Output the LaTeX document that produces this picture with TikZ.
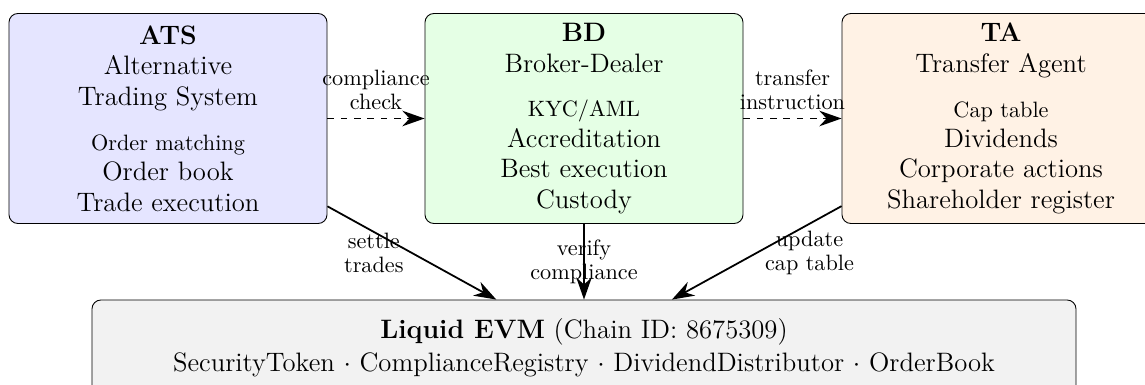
\documentclass[tikz,border=0pt]{standalone}
\usetikzlibrary{arrows.meta}
\begin{document}
\begin{tikzpicture}[x=0.45pt,y=-0.45pt,
  box/.style={draw=black, rounded corners=4pt, minimum width=143.1pt,
    minimum height=94.5pt, align=center, inner sep=0pt,
    font={\fontsize{12}{13.7}\selectfont}},
  chainbox/.style={draw=black, rounded corners=4pt, fill=gray!10,
    minimum width=442.8pt, minimum height=43.2pt, align=center,
    inner sep=0pt, font={\fontsize{12}{14.8}\selectfont}},
  lbl/.style={font={\fontsize{10}{11}\selectfont}, align=center},
  flow/.style={thick, -{Stealth[length=10pt,width=7pt]}}]
\clip (0,0) rectangle (1145,385);

\node[box, fill=blue!10] (ats) at (168,118.5)
  {\textbf{ATS}\\ Alternative\\ Trading System\\[6.5pt]
   {\normalsize Order matching}\\ Order book\\ Trade execution};
\node[box, fill=green!10] (bd) at (584,118.5)
  {\textbf{BD}\\ Broker-Dealer\\[6.5pt]
   {\normalsize KYC/AML}\\ Accreditation\\ Best execution\\ Custody};
\node[box, fill=orange!10] (ta) at (1001,118.5)
  {\textbf{TA}\\ Transfer Agent\\[6.5pt]
   {\normalsize Cap table}\\ Dividends\\ Corporate actions\\ Shareholder register};
\node[chainbox] (chain) at (584,348)
  {\textbf{Liquid EVM} (Chain ID: 8675309)\\
   SecurityToken $\cdot$ ComplianceRegistry $\cdot$ DividendDistributor $\cdot$ OrderBook};

\draw[flow, dashed] (ats) -- node[lbl, above] {compliance\\check} (bd);
\draw[flow, dashed] (bd) -- node[lbl, above] {transfer\\instruction} (ta);
\draw[flow] (ats) -- node[lbl, left] {settle\\trades} (chain);
\draw[flow] (bd) -- node[lbl] {verify\\compliance} (chain);
\draw[flow] (ta) -- node[lbl, right] {update\\cap table} (chain);
\end{tikzpicture}
\end{document}
